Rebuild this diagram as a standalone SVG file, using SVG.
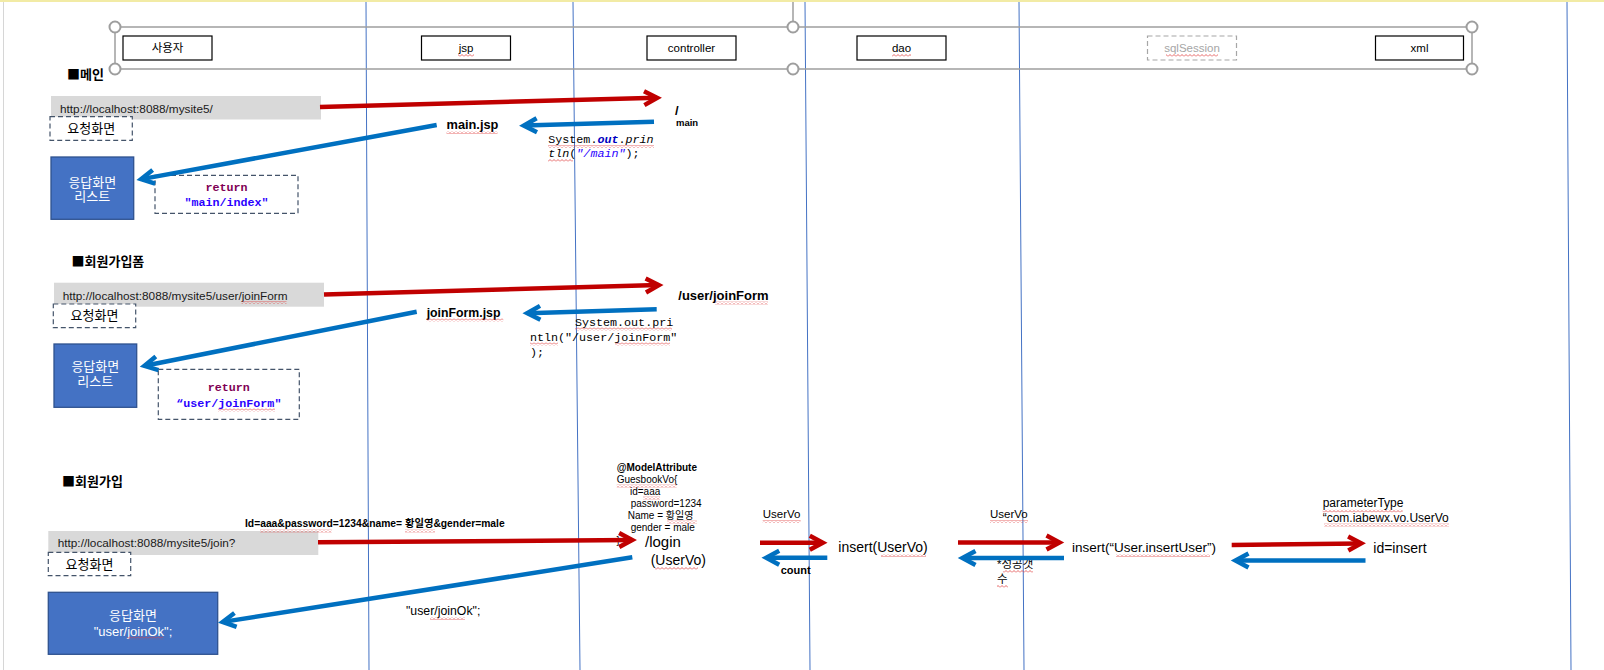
<svg xmlns="http://www.w3.org/2000/svg" width="1604" height="670" viewBox="0 0 1604 670">
  <defs>
    <style>
      .lane { stroke: #4472C4; stroke-width: 1; fill: none; }
      .frame { stroke: #9E9E9E; stroke-width: 1.5; fill: none; }
      .handle { stroke: #9E9E9E; stroke-width: 2; fill: #FFFFFF; }
      .hbox { fill: #FFFFFF; stroke: #000000; stroke-width: 1.2; }
      .hbox-dash { fill: #FFFFFF; stroke: #A6A6A6; stroke-width: 1.2; stroke-dasharray: 5 3; }
      .hlabel { font-family: "Liberation Sans", "Noto Sans CJK KR", sans-serif; font-size: 11.5px; fill: #000000; text-anchor: middle; }
      .url { fill: #D9D9D9; }
      .urltxt { font-family: "Liberation Sans", sans-serif; font-size: 11.8px; fill: #1A1A1A; }
      .dashbox { fill: #FFFFFF; stroke: #44546A; stroke-width: 1.2; stroke-dasharray: 5 3; }
      .resp { fill: #4472C4; stroke: #2F528F; stroke-width: 1.3; }
      .resptxt { font-family: "Liberation Sans", "Noto Sans CJK KR", sans-serif; font-size: 13px; fill: #FFFFFF; text-anchor: middle; }
      .kr { font-family: "Noto Sans CJK KR", sans-serif; font-size: 13px; fill: #000000; }
      .head { font-family: "Noto Sans CJK KR", sans-serif; font-size: 13px; font-weight: bold; fill: #000000; }
      .lbl { font-family: "Liberation Sans", "Noto Sans CJK KR", sans-serif; fill: #000000; }
      .code { font-family: "Liberation Mono", monospace; font-size: 11.7px; fill: #000000; }
      .kw { font-weight: bold; fill: #7F0055; }
      .str { fill: #2A00FF; }
      .red { stroke: #C00000; stroke-width: 4.5; fill: none; }
      .blue { stroke: #0070C0; stroke-width: 4.5; fill: none; }
      .wave { fill: url(#squiggle); }
    </style>
    <pattern id="squiggle" x="0" y="0" width="4" height="3" patternUnits="userSpaceOnUse">
      <path d="M0 2.5 L2 0.5 L4 2.5" stroke="#E04040" stroke-width="0.8" fill="none"/>
    </pattern>
    <marker id="head-red" markerUnits="userSpaceOnUse" markerWidth="26" markerHeight="24" viewBox="-22 -12 26 24" refX="-5" refY="0" orient="auto">
      <path d="M-17.5,-7 L-4.5,0 L-17.5,7" stroke="#C00000" stroke-width="4.5" fill="none" stroke-miterlimit="10"/>
    </marker>
    <marker id="head-blue" markerUnits="userSpaceOnUse" markerWidth="26" markerHeight="24" viewBox="-22 -12 26 24" refX="-5" refY="0" orient="auto">
      <path d="M-17.5,-7 L-4.5,0 L-17.5,7" stroke="#0070C0" stroke-width="4.5" fill="none" stroke-miterlimit="10"/>
    </marker>
  </defs>

  <!-- page background and window edges -->
  <rect x="0" y="0" width="1604" height="670" fill="#FFFFFF"/>
  <rect x="0" y="0" width="1604" height="2" fill="#F2EBA5"/>
  <line x1="3.5" y1="2" x2="3.5" y2="670" stroke="#D6D6D6" stroke-width="1"/>

  <!-- swimlane dividers -->
  <g id="lanes">
    <line class="lane" x1="366" y1="2" x2="369" y2="670"/>
    <line class="lane" x1="573" y1="2" x2="580" y2="670"/>
    <line class="lane" x1="805" y1="2" x2="810" y2="670"/>
    <line class="lane" x1="1019" y1="2" x2="1024" y2="670"/>
    <line class="lane" x1="1567" y1="2" x2="1571" y2="670"/>
  </g>

  <!-- participant header with selection frame -->
  <g id="header">
    <line class="frame" x1="793" y1="2" x2="793" y2="22"/>
    <rect class="frame" x="115" y="27" width="1357" height="42"/>
    <circle class="handle" cx="115" cy="27" r="5.5"/>
    <circle class="handle" cx="793" cy="27" r="5.5"/>
    <circle class="handle" cx="1472" cy="27" r="5.5"/>
    <circle class="handle" cx="115" cy="69" r="5.5"/>
    <circle class="handle" cx="793" cy="69" r="5.5"/>
    <circle class="handle" cx="1472" cy="69" r="5.5"/>
  </g>
  <g id="actor-user">
    <rect class="hbox" x="123" y="36" width="89" height="24"/>
    <text class="hlabel" x="167.5" y="52">사용자</text>
  </g>
  <g id="actor-jsp">
    <rect class="hbox" x="421.5" y="36" width="89" height="24"/>
    <text class="hlabel" x="466" y="52">jsp</text>
    <rect class="wave" x="458" y="54" width="16" height="3"/>
  </g>
  <g id="actor-controller">
    <rect class="hbox" x="647" y="36" width="89" height="24"/>
    <text class="hlabel" x="691.5" y="52">controller</text>
  </g>
  <g id="actor-dao">
    <rect class="hbox" x="857" y="36" width="89" height="24"/>
    <text class="hlabel" x="901.5" y="52">dao</text>
    <rect class="wave" x="892" y="54" width="19" height="3"/>
  </g>
  <g id="actor-sqlsession">
    <rect class="hbox-dash" x="1147.5" y="36" width="89" height="24"/>
    <text class="hlabel" x="1192" y="52" fill="#A6A6A6" style="fill:#A6A6A6">sqlSession</text>
    <rect class="wave" x="1166" y="54" width="52" height="3"/>
  </g>
  <g id="actor-xml">
    <rect class="hbox" x="1375.5" y="36" width="88" height="24"/>
    <text class="hlabel" x="1419.5" y="52">xml</text>
  </g>

  <!-- ===== main page ===== -->
  <g id="sec-main-title">
    <text class="head" x="67" y="79">■메인</text>
  </g>
  <g id="main-request">
    <rect class="url" x="51" y="96" width="270" height="23.5"/>
    <text class="urltxt" x="60" y="113">http://localhost:8088/mysite5/</text>
  </g>
  <g id="main-request-label">
    <rect class="dashbox" x="50" y="116.7" width="82.3" height="23.6"/>
    <text class="kr" x="91.2" y="133" text-anchor="middle">요청화면</text>
  </g>
  <g id="main-response">
    <rect class="resp" x="51" y="157" width="82.7" height="62.3"/>
    <text class="resptxt" x="92.3" y="186.5">응답화면</text>
    <text class="resptxt" x="92.3" y="200.5">리스트</text>
  </g>
  <g id="main-return">
    <rect class="dashbox" x="155" y="175.3" width="143" height="38"/>
    <text class="code kw" x="226.5" y="191" text-anchor="middle">return</text>
    <text class="code str" x="226.5" y="205.7" text-anchor="middle" font-weight="bold">"main/index"</text>
  </g>
  <g id="main-controller">
    <text class="lbl" x="675" y="115" font-size="13" font-weight="bold">/</text>
    <text class="lbl" x="676" y="126" font-size="9.5" font-weight="bold">main</text>
  </g>
  <g id="main-jsp">
    <text class="lbl" x="446.5" y="128.5" font-size="12.8" font-weight="bold">main.jsp</text>
    <rect class="wave" x="446.5" y="131" width="51" height="3"/>
  </g>
  <g id="main-code">
    <text class="code" x="548.3" y="143.3">System.<tspan font-weight="bold" font-style="italic" fill="#0000C0">out</tspan>.<tspan font-style="italic">prin</tspan></text>
    <text class="code" x="548.3" y="157.3"><tspan font-style="italic">tln</tspan>(<tspan class="str" font-style="italic">"/main"</tspan>);</text>
    <rect class="wave" x="548" y="145" width="106" height="3"/>
    <rect class="wave" x="548" y="159" width="25" height="3"/>
  </g>

  <!-- ===== join form page ===== -->
  <g id="sec-joinform-title">
    <text class="head" x="71.5" y="266">■회원가입폼</text>
  </g>
  <g id="joinform-request">
    <rect class="url" x="54" y="282.7" width="270" height="24"/>
    <text class="urltxt" x="62.7" y="300">http://localhost:8088/mysite5/user/joinForm</text>
    <rect class="wave" x="241.5" y="301" width="45" height="3"/>
  </g>
  <g id="joinform-request-label">
    <rect class="dashbox" x="53.3" y="304" width="82.4" height="23.7"/>
    <text class="kr" x="94.5" y="320.3" text-anchor="middle">요청화면</text>
  </g>
  <g id="joinform-response">
    <rect class="resp" x="54" y="344" width="82.7" height="63.3"/>
    <text class="resptxt" x="95.3" y="371">응답화면</text>
    <text class="resptxt" x="95.3" y="385.5">리스트</text>
  </g>
  <g id="joinform-return">
    <rect class="dashbox" x="158.3" y="369.3" width="141" height="50"/>
    <text class="code kw" x="228.8" y="391" text-anchor="middle">return</text>
    <text class="code str" x="228.8" y="406.7" text-anchor="middle" font-weight="bold">“user/joinForm"</text>
    <rect class="wave" x="218" y="408.5" width="57" height="3"/>
  </g>
  <g id="joinform-controller">
    <text class="lbl" x="678.3" y="300" font-size="13" font-weight="bold">/user/joinForm</text>
    <rect class="wave" x="715" y="301.5" width="53" height="3"/>
  </g>
  <g id="joinform-jsp">
    <text class="lbl" x="426.7" y="316.7" font-size="12.3" font-weight="bold">joinForm.jsp</text>
    <rect class="wave" x="426.7" y="318.5" width="76.6" height="3"/>
  </g>
  <g id="joinform-code">
    <text class="code" x="575" y="326">System.out.pri</text>
    <text class="code" x="530" y="341">ntln("/user/joinForm"</text>
    <text class="code" x="530" y="356">);</text>
    <rect class="wave" x="575" y="327.5" width="97" height="3"/>
    <rect class="wave" x="530" y="342.5" width="28" height="3"/>
    <rect class="wave" x="615" y="342.5" width="55" height="3"/>
  </g>

  <!-- ===== join submit ===== -->
  <g id="sec-join-title">
    <text class="head" x="62" y="486">■회원가입</text>
  </g>
  <g id="join-request">
    <rect class="url" x="48.3" y="531" width="270" height="24"/>
    <text class="urltxt" x="57.7" y="546.7">http://localhost:8088/mysite5/join?</text>
  </g>
  <g id="join-request-label">
    <rect class="dashbox" x="48.3" y="552.3" width="82.4" height="23.4"/>
    <text class="kr" x="89.5" y="568.5" text-anchor="middle">요청화면</text>
  </g>
  <g id="join-params">
    <text class="lbl" x="245" y="527.3" font-size="10.3" font-weight="bold">Id=aaa&amp;password=1234&amp;name= 황일영&amp;gender=male</text>
    <rect class="wave" x="260" y="529.5" width="71.7" height="3"/>
    <rect class="wave" x="405" y="529.5" width="30" height="3"/>
  </g>
  <g id="join-response">
    <rect class="resp" x="48.3" y="592.3" width="169.4" height="62"/>
    <text class="resptxt" x="133" y="619.5">응답화면</text>
    <text class="resptxt" x="133" y="636" font-size="12.5">"user/joinOk";</text>
    <rect class="wave" x="126.7" y="636.5" width="36.6" height="3"/>
  </g>
  <g id="join-result">
    <text class="lbl" x="406" y="615" font-size="12.3">"user/joinOk";</text>
    <rect class="wave" x="430" y="617" width="35" height="3"/>
  </g>
  <g id="join-model">
    <text class="lbl" x="616.7" y="471" font-size="10" font-weight="bold">@ModelAttribute</text>
    <text class="lbl" x="616.7" y="483" font-size="10">GuesbookVo{</text>
    <text class="lbl" x="630" y="495" font-size="10">id=aaa</text>
    <text class="lbl" x="630.7" y="507" font-size="10">password=1234</text>
    <text class="lbl" x="627.7" y="519" font-size="10">Name = 황일영</text>
    <text class="lbl" x="630.7" y="531" font-size="10">gender = male</text>
    <text class="lbl" x="616.5" y="544" font-size="10">}</text>
    <rect class="wave" x="616.7" y="484.5" width="60" height="3"/>
    <rect class="wave" x="643" y="496.5" width="17" height="3"/>
    <rect class="wave" x="667" y="520.5" width="30" height="3"/>
  </g>
  <g id="join-controller">
    <text class="lbl" x="645" y="547.3" font-size="15">/login</text>
    <text class="lbl" x="650.7" y="565" font-size="14">(UserVo)</text>
    <rect class="wave" x="655" y="567" width="43" height="3"/>
  </g>
  <g id="join-dao">
    <text class="lbl" x="762.7" y="517.7" font-size="11.5">UserVo</text>
    <rect class="wave" x="762.7" y="520" width="38" height="3"/>
    <text class="lbl" x="838.3" y="551.7" font-size="14">insert(UserVo)</text>
    <rect class="wave" x="881" y="554" width="45" height="3"/>
    <text class="lbl" x="780.7" y="574.3" font-size="11" font-weight="bold">count</text>
  </g>
  <g id="join-sqlsession">
    <text class="lbl" x="990" y="517.7" font-size="11.5">UserVo</text>
    <rect class="wave" x="990" y="520" width="38" height="3"/>
    <text class="lbl" x="1072" y="552" font-size="13.5">insert(“User.insertUser”)</text>
    <rect class="wave" x="1116" y="554" width="94" height="3"/>
    <text class="lbl" x="997" y="568" font-size="11.5">*성공갯</text>
    <text class="lbl" x="997" y="583" font-size="11.5">수</text>
    <rect class="wave" x="1003" y="570" width="30" height="3"/>
    <rect class="wave" x="997" y="585" width="11" height="3"/>
  </g>
  <g id="join-xml">
    <text class="lbl" x="1322.7" y="507.3" font-size="12">parameterType</text>
    <text class="lbl" x="1322.7" y="521.7" font-size="12">“com.iabewx.vo.UserVo</text>
    <rect class="wave" x="1322.7" y="509.5" width="80" height="3"/>
    <rect class="wave" x="1324" y="523.5" width="125" height="3"/>
    <text class="lbl" x="1373.3" y="553.3" font-size="14">id=insert</text>
  </g>

  <!-- request / response flows -->
  <g id="connectors">
    <line class="red" x1="320" y1="107" x2="656.7" y2="97.8" marker-end="url(#head-red)"/>
    <line class="blue" x1="654" y1="121.7" x2="524.3" y2="125.6" marker-end="url(#head-blue)"/>
    <line class="blue" x1="436.7" y1="125" x2="141.6" y2="179.1" marker-end="url(#head-blue)"/>

    <line class="red" x1="324" y1="294.5" x2="658.3" y2="285.1" marker-end="url(#head-red)"/>
    <line class="blue" x1="656.7" y1="309.3" x2="527.7" y2="313.2" marker-end="url(#head-blue)"/>
    <line class="blue" x1="416.7" y1="311.7" x2="144.9" y2="365.7" marker-end="url(#head-blue)"/>

    <line class="red" x1="318" y1="542.3" x2="631.7" y2="540" marker-end="url(#head-red)"/>
    <line class="blue" x1="632.3" y1="557.3" x2="223.2" y2="621.9" marker-end="url(#head-blue)"/>
    <line class="red" x1="760" y1="542.7" x2="822.3" y2="542.7" marker-end="url(#head-red)"/>
    <line class="blue" x1="827.3" y1="557.7" x2="766.7" y2="557.7" marker-end="url(#head-blue)"/>
    <line class="red" x1="958" y1="542.5" x2="1059" y2="542.5" marker-end="url(#head-red)"/>
    <line class="blue" x1="1064" y1="558" x2="963" y2="558" marker-end="url(#head-blue)"/>
    <line class="red" x1="1231.7" y1="545" x2="1360.7" y2="543.4" marker-end="url(#head-red)"/>
    <line class="blue" x1="1365.5" y1="560.5" x2="1236" y2="560.5" marker-end="url(#head-blue)"/>
  </g>
</svg>
